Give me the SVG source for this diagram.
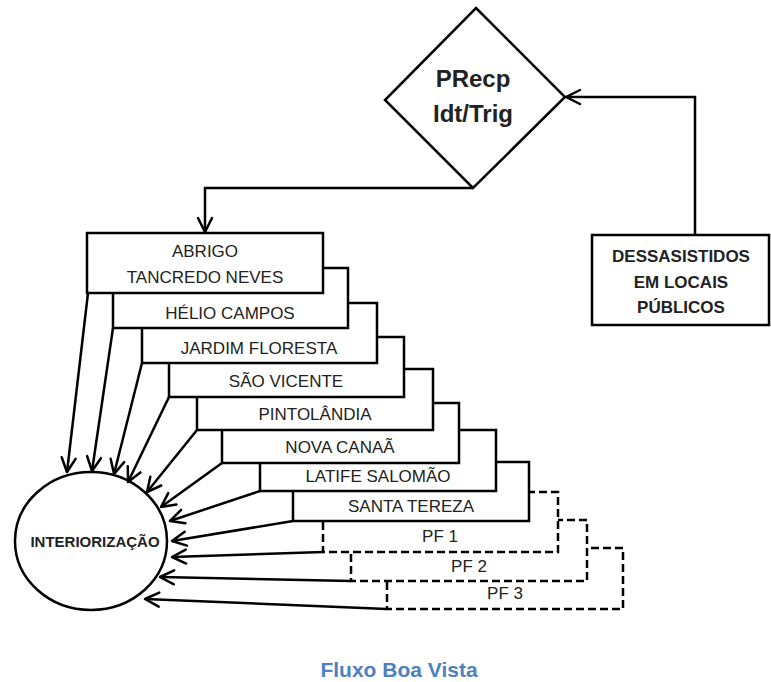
<svg xmlns="http://www.w3.org/2000/svg" width="771" height="682" viewBox="0 0 771 682">
<style>
  .box { fill: #fff; stroke: #000; stroke-width: 2.5; }
  .dash { fill: #fff; stroke: #000; stroke-width: 2.5; stroke-dasharray: 8 4; }
  .lbl { font-family: "Liberation Sans", Arial, sans-serif; font-size: 17px; fill: #222; text-anchor: middle; }
  .bold { font-family: "Liberation Sans", Arial, sans-serif; font-weight: bold; fill: #222; text-anchor: middle; }
  .conn { fill: none; stroke: #000; stroke-width: 2.5; marker-end: url(#arr); }
</style>
<defs>
  <marker id="arr" markerUnits="userSpaceOnUse" markerWidth="18" markerHeight="18" viewBox="0 0 18 18" refX="16" refY="9" orient="auto">
    <path d="M2,2 L16,9 L2,16" fill="none" stroke="#000" stroke-width="2.5" stroke-linejoin="round" stroke-linecap="round"/>
  </marker>
</defs>
<rect width="771" height="682" fill="#fff"/>

<g id="node-pf3"><rect class="dash" x="387" y="548" width="236" height="61"/><text class="lbl" x="505" y="599">PF 3</text></g>
<g id="node-pf2"><rect class="dash" x="351" y="520" width="236" height="61"/><text class="lbl" x="469" y="572">PF 2</text></g>
<g id="node-pf1"><rect class="dash" x="323" y="492" width="235" height="60"/><text class="lbl" x="440" y="542">PF 1</text></g>
<g id="node-santa-tereza"><rect class="box" x="293" y="462" width="236" height="59"/><text class="lbl" x="411" y="512">SANTA TEREZA</text></g>
<g id="node-latife"><rect class="box" x="260" y="430" width="236" height="61"/><text class="lbl" x="378" y="482">LATIFE SALOMÃO</text></g>
<g id="node-nova-canaa"><rect class="box" x="222" y="403" width="237" height="60"/><text class="lbl" x="340" y="453">NOVA CANAÃ</text></g>
<g id="node-pintolandia"><rect class="box" x="197" y="369" width="236" height="61"/><text class="lbl" x="315" y="420">PINTOLÂNDIA</text></g>
<g id="node-sao-vicente"><rect class="box" x="169" y="337" width="235" height="60"/><text class="lbl" x="286" y="387">SÃO VICENTE</text></g>
<g id="node-jardim"><rect class="box" x="142" y="303" width="235" height="60"/><text class="lbl" x="259" y="354">JARDIM FLORESTA</text></g>
<g id="node-helio"><rect class="box" x="113" y="268" width="235" height="60"/><text class="lbl" x="230" y="319">HÉLIO CAMPOS</text></g>
<g id="node-abrigo"><rect class="box" x="87" y="233" width="236" height="60"/><text class="lbl" x="205" y="257">ABRIGO</text><text class="lbl" x="205" y="283">TANCREDO NEVES</text></g>

<g id="node-precp"><polygon class="box" points="476,8 565,97 473,188 385,100"/><text class="bold" x="473" y="87" font-size="24">PRecp</text><text class="bold" x="473" y="122" font-size="24">Idt/Trig</text></g>

<g id="node-dessasistidos"><rect class="box" x="592" y="235" width="177" height="90"/><text class="bold" x="681" y="262" font-size="17">DESSASISTIDOS</text><text class="bold" x="681" y="288" font-size="17">EM LOCAIS</text><text class="bold" x="681" y="313" font-size="17">PÚBLICOS</text></g>

<g id="node-interiorizacao"><ellipse class="box" cx="91" cy="541" rx="76" ry="69"/><text class="bold" x="95" y="547" font-size="15">INTERIORIZAÇÃO</text></g>

<g id="connectors">
  <path class="conn" d="M473,188 L205,188 L205,232"/>
  <path class="conn" d="M695,235 L695,97 L566,97"/>
  <path class="conn" d="M88,293 L67,472"/>
  <path class="conn" d="M113,328 L92,471"/>
  <path class="conn" d="M142,363 L114,474"/>
  <path class="conn" d="M169,397 L128,482"/>
  <path class="conn" d="M197,430 L147,492"/>
  <path class="conn" d="M222,463 L161,507"/>
  <path class="conn" d="M260,491 L170,521"/>
  <path class="conn" d="M293,521 L172,541"/>
  <path class="conn" d="M323,552 L172,557"/>
  <path class="conn" d="M351,581 L160,577"/>
  <path class="conn" d="M387,609 L145,599"/>
</g>

<text class="bold" x="399" y="677" font-size="21" style="fill:#4f81bd">Fluxo Boa Vista</text>
</svg>
